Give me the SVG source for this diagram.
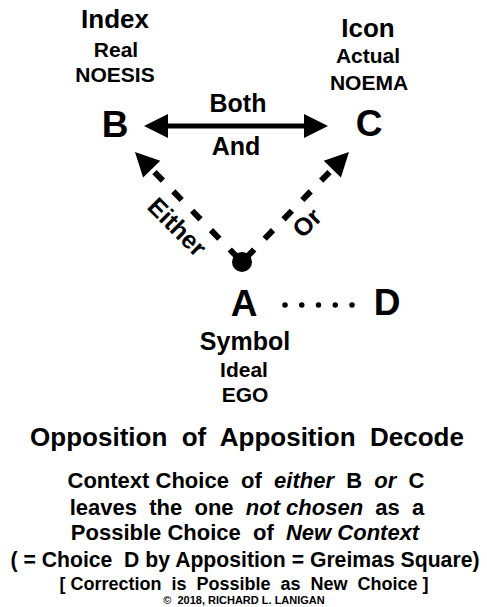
<svg xmlns="http://www.w3.org/2000/svg" width="487" height="607" viewBox="0 0 487 607">
<style>
  text { font-family: "Liberation Sans", Arial, Helvetica, sans-serif; font-weight: bold; fill: #000; text-anchor: middle; white-space: pre; }
  .letter { font-size: 37px; }
  .head { font-size: 26px; }
  .sub { font-size: 21px; }
  .lbl { font-size: 25px; }
  .title { font-size: 26px; }
  .body { font-size: 22px; }
  .note { font-size: 18px; }
  .copy { font-size: 11px; }
  .it { font-style: italic; }
  .solid { stroke: #000; stroke-width: 5; fill: none; }
  .dash { stroke: #000; stroke-width: 6; fill: none; stroke-dasharray: 0 4 12 15 12 15 12 15 12 15 60; }
  .dots { stroke: #000; stroke-width: 5.5; fill: none; stroke-linecap: round; stroke-dasharray: 0.01 16.74; }
</style>
<defs>
  <marker id="ah" markerUnits="userSpaceOnUse" markerWidth="26" markerHeight="26" refX="0" refY="12" orient="auto-start-reverse" overflow="visible">
    <path d="M0,0 L24,12 L0,24 Z" fill="#000"/>
  </marker>
</defs>

<g id="connectors">
  <line class="solid" x1="168" y1="126" x2="304" y2="126" marker-start="url(#ah)" marker-end="url(#ah)"/>
  <path class="dash" d="M151.7,169.2 L242,262" marker-start="url(#ah)"/>
  <path class="dash" d="M332.3,169.2 L242,262" marker-start="url(#ah)"/>
  <line class="dots" x1="285" y1="305" x2="356" y2="305"/>
</g>

<g id="edge-labels">
  <text class="lbl" x="238" y="112">Both</text>
  <text class="lbl" x="236" y="155">And</text>
  <text class="lbl" transform="translate(177,227) rotate(45)" y="8.5">Either</text>
  <text class="lbl" transform="translate(307,223) rotate(-45)" y="8.5">Or</text>
</g>

<g id="node-B">
  <text class="head" x="115" y="28">Index</text>
  <text class="sub" x="116" y="57">Real</text>
  <text class="sub" x="115" y="82">NOESIS</text>
  <text class="letter" x="115" y="137">B</text>
</g>

<g id="node-C">
  <text class="head" x="368" y="37">Icon</text>
  <text class="sub" x="368" y="63">Actual</text>
  <text class="sub" x="369" y="90">NOEMA</text>
  <text class="letter" x="369" y="136">C</text>
</g>

<g id="node-A">
  <circle cx="242" cy="262" r="10" fill="#000"/>
  <text class="letter" x="244" y="316">A</text>
  <text class="lbl" x="245" y="350">Symbol</text>
  <text class="sub" x="244" y="377">Ideal</text>
  <text class="sub" x="245" y="402">EGO</text>
</g>

<g id="node-D">
  <text class="letter" x="387" y="315">D</text>
</g>

<g id="caption">
  <text class="title" x="247" y="446">Opposition  of  Apposition  Decode</text>
  <text class="body" x="246" y="488">Context Choice  of  <tspan class="it">either</tspan>  B  <tspan class="it">or</tspan>  C</text>
  <text class="body" x="247" y="515">leaves  the  one  <tspan class="it">not chosen</tspan>  as  a</text>
  <text class="body" x="245" y="540">Possible Choice  of  <tspan class="it">New Context</tspan></text>
  <text class="body" x="245" y="567" style="font-size:21.2px">( = Choice  D by Apposition = Greimas Square)</text>
  <text class="note" x="244" y="590">[ Correction  is  Possible  as  New  Choice ]</text>
  <text class="copy" x="244" y="604">©  2018, RICHARD L. LANIGAN</text>
</g>
</svg>
